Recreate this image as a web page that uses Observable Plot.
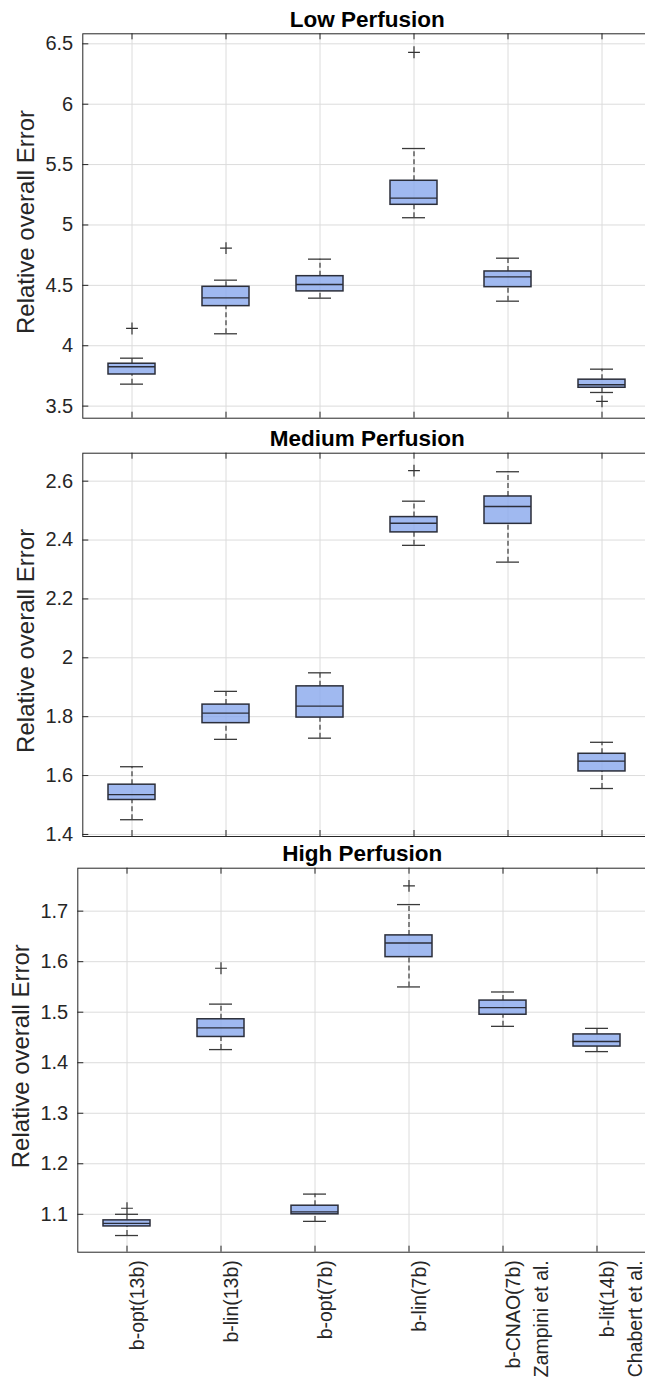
<!DOCTYPE html>
<html><head><meta charset="utf-8">
<script src="https://cdn.jsdelivr.net/npm/d3@7"></script>
<script src="https://cdn.jsdelivr.net/npm/@observablehq/plot@0.6"></script>
<style>
html,body{margin:0;padding:0;background:#fff;overflow:hidden;width:645px;height:1380px;}
#chart{width:645px;height:1380px;overflow:hidden;position:relative;}
#chart svg{display:block;overflow:visible !important;background:transparent !important;position:relative;}
</style></head><body><div id="chart"></div>
<script>
const categories = ["b-opt(13b)", "b-lin(13b)", "b-opt(7b)", "b-lin(7b)", "b-CNAO(7b)\nZampini et al.", "b-lit(14b)\nChabert et al."];
const yLabel = "Relative overall Error";

// Low perfusion
const lowWhiskerLow  = [3.682, 4.099, 4.394, 5.060, 4.369, 3.613];
const lowQ1          = [3.762, 4.328, 4.450, 5.167, 4.485, 3.652];
const lowMedian      = [3.826, 4.397, 4.507, 5.222, 4.571, 3.677];
const lowQ3          = [3.851, 4.488, 4.576, 5.366, 4.615, 3.719];
const lowWhiskerHigh = [3.897, 4.543, 4.717, 5.633, 4.725, 3.806];
const lowOutlierCat  = [0, 1, 3, 5];
const lowOutlierVal  = [4.143, 4.808, 6.430, 3.539];
const lowTicks = [3.5, 4, 4.5, 5, 5.5, 6, 6.5];

// Medium perfusion
const medWhiskerLow  = [1.450, 1.723, 1.727, 2.382, 2.325, 1.556];
const medQ1          = [1.517, 1.778, 1.797, 2.426, 2.455, 1.614];
const medMedian      = [1.535, 1.812, 1.836, 2.457, 2.514, 1.649];
const medQ3          = [1.569, 1.841, 1.903, 2.478, 2.548, 1.674];
const medWhiskerHigh = [1.630, 1.886, 1.949, 2.532, 2.632, 1.713];
const medOutlierCat  = [3];
const medOutlierVal  = [2.636];
const medTicks = [1.4, 1.6, 1.8, 2, 2.2, 2.4, 2.6];

// High perfusion
const highWhiskerLow  = [1.058, 1.426, 1.086, 1.550, 1.472, 1.422];
const highQ1          = [1.076, 1.451, 1.100, 1.609, 1.495, 1.432];
const highMedian      = [1.082, 1.469, 1.105, 1.637, 1.509, 1.442];
const highQ3          = [1.088, 1.486, 1.117, 1.652, 1.523, 1.456];
const highWhiskerHigh = [1.100, 1.516, 1.140, 1.713, 1.540, 1.468];
const highOutlierCat  = [0, 1, 3];
const highOutlierVal  = [1.112, 1.587, 1.750];
const highTicks = [1.1, 1.2, 1.3, 1.4, 1.5, 1.6, 1.7];

const panels = [
  {title: "Low Perfusion", wl: lowWhiskerLow, q1: lowQ1, med: lowMedian, q3: lowQ3, wh: lowWhiskerHigh,
   oc: lowOutlierCat, ov: lowOutlierVal, ticks: lowTicks, domain: [3.40, 6.583],
   height: 430, mt: 33.3, mb: 12.3, ml: 82.3, mr: -6.1},
  {title: "Medium Perfusion", wl: medWhiskerLow, q1: medQ1, med: medMedian, q3: medQ3, wh: medWhiskerHigh,
   oc: medOutlierCat, ov: medOutlierVal, ticks: medTicks, domain: [1.393, 2.695],
   height: 415, mt: 22.7, mb: 9, ml: 82.3, mr: -6.1},
  {title: "High Perfusion", wl: highWhiskerLow, q1: highQ1, med: highMedian, q3: highQ3, wh: highWhiskerHigh,
   oc: highOutlierCat, ov: highOutlierVal, ticks: highTicks, domain: [1.025, 1.785],
   height: 535, mt: 22.7, mb: 128.3, ml: 77.3, mr: -1.1}
];

const W = 645;
const dark = "#262626";
const boxEdge = "#2b2e3a";
const whisk = "#3a3a3a";

panels.forEach((p, k) => {
  const last = k === panels.length - 1;
  const data = categories.map((c, i) => ({cat: c, wl: p.wl[i], q1: p.q1[i], med: p.med[i], q3: p.q3[i], wh: p.wh[i]}));
  const outs = p.oc.map((ci, j) => ({cat: categories[ci], v: p.ov[j]}));
  const frameW = W - p.ml - p.mr;
  const frameH = p.height - p.mt - p.mb;
  const marks = [
    Plot.ruleY(p.ticks, {y: d => d, stroke: "#dcdcdc", strokeWidth: 1}),
    Plot.ruleX(categories, {x: d => d, stroke: "#dcdcdc", strokeWidth: 1}),
    Plot.ruleX(data, {x: "cat", y1: "q3", y2: "wh", stroke: whisk, strokeWidth: 1.2, strokeDasharray: "5,3"}),
    Plot.ruleX(data, {x: "cat", y1: "wl", y2: "q1", stroke: whisk, strokeWidth: 1.2, strokeDasharray: "5,3"}),
    Plot.tickY(data, {x: "cat", y: "wh", insetLeft: 12, insetRight: 12, stroke: whisk, strokeWidth: 1.3}),
    Plot.tickY(data, {x: "cat", y: "wl", insetLeft: 12, insetRight: 12, stroke: whisk, strokeWidth: 1.3}),
    Plot.barY(data, {x: "cat", y1: "q1", y2: "q3", fill: "#88a8ec", fillOpacity: 0.8, stroke: boxEdge, strokeWidth: 1.5}),
    Plot.tickY(data, {x: "cat", y: "med", stroke: boxEdge, strokeWidth: 1.3}),
    Plot.dot(outs, {x: "cat", y: "v", symbol: "plus", r: 3.9, stroke: "#333", strokeWidth: 1.2}),
    Plot.frame({stroke: dark, strokeWidth: 1}),
    Plot.tickY(p.ticks, {y: d => d, insetRight: frameW - 6, stroke: dark, strokeWidth: 1}),
    Plot.tickX(categories, {x: d => d, insetBottom: frameH - 6, stroke: dark, strokeWidth: 1}),
    Plot.tickX(categories, {x: d => d, insetTop: frameH - 6, stroke: dark, strokeWidth: 1}),
    Plot.axisY({ticks: p.ticks, tickFormat: d => String(d), tickSize: 0, tickPadding: 9.6, fontSize: 20, label: null}),
    Plot.text([p.title], {frameAnchor: "top", dy: -7, lineAnchor: "bottom", fontSize: 22.5, fontWeight: "bold", fill: "#000"}),
    Plot.text([yLabel], {frameAnchor: "left", rotate: -90, dx: -56, dy: -4, textAnchor: "middle", lineAnchor: "middle", fontSize: 24, fill: dark})
  ];
  if (last) {
    marks.push(Plot.text(categories, {x: d => d, frameAnchor: "bottom", dy: 8, dx: -2, rotate: -90,
      textAnchor: "end", lineAnchor: "top", lineHeight: 1.4, fontSize: 19.5, fill: dark}));
  }
  const svg = Plot.plot({
    width: W, height: p.height,
    marginTop: p.mt, marginBottom: p.mb, marginLeft: p.ml, marginRight: p.mr,
    style: {fontFamily: "Liberation Sans, Arial, sans-serif", color: dark, background: "transparent", overflow: "visible"},
    x: {type: "band", domain: categories, paddingInner: 0.5, paddingOuter: 0.25, axis: null},
    y: {domain: p.domain},
    marks
  });
  document.getElementById("chart").appendChild(svg);
});
</script></body></html>
